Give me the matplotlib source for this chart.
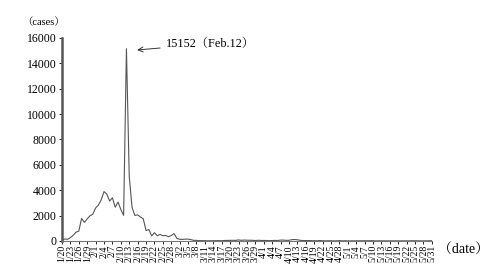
import numpy as np
import pandas as pd
import matplotlib
matplotlib.use("Agg")
import matplotlib.pyplot as plt

# daily new cases, 2020-01-20 .. 2020-05-31
start_date = "2020-01-20"
end_date = "2020-05-31"
new_cases = [
    77, 149, 131, 259, 444, 688, 769, 1771, 1459, 1737, 1982, 2102,  # 1/20-1/31
    2590, 2829, 3235, 3887, 3694, 3143, 3399, 2656, 3062, 2478, 2015, 15152,
    5090, 2641, 2009, 2048, 1886, 1749, 820, 889, 397, 648, 409, 508, 406,
    433, 327, 427, 573,  # 2/1-2/29
    202, 125, 119, 139, 143, 99, 44, 40, 19, 24, 15, 8, 11, 20, 16, 21, 13,
    34, 39, 41, 46, 39, 78, 47, 67, 55, 54, 45, 31, 48, 36,  # 3/1-3/31
    35, 31, 19, 30, 39, 32, 62, 63, 42, 46, 99, 108, 89, 46, 26, 27, 27, 16,
    12, 11, 30, 10, 6, 12, 11, 3, 6, 22, 4, 12,  # 4/1-4/30
    1, 2, 3, 1, 1, 2, 4, 1, 14, 17, 1, 7, 3, 4, 5, 8, 5, 6, 3, 5, 4, 0, 3,
    11, 7, 1, 1, 2, 4, 2, 16,  # 5/1-5/31
]
peak_label = "15152（Feb.12）"

dates = pd.date_range(start_date, end_date, freq="D")
day_idx = np.arange(len(dates))
tick_idx = day_idx[::3]
tick_labels = [f"{d.month}/{d.day}" for d in dates[::3]]

serif = ["Liberation Serif", "Noto Serif CJK JP", "Noto Sans CJK JP", "DejaVu Serif"]
plt.rcParams["font.family"] = serif

fig = plt.figure(figsize=(4.88, 2.75), dpi=100)
ax = fig.add_axes([0.127, 0.124, 0.758, 0.738])

ax.plot(day_idx, new_cases, color="#555555", lw=0.8)

ax.set_xlim(0, len(dates) - 1)
ax.set_ylim(0, 16000)
ax.set_yticks(np.arange(0, 16001, 2000))
ax.set_xticks(tick_idx)
ax.set_xticklabels(tick_labels, rotation=90, fontsize=7)
ax.tick_params(axis="y", labelsize=8.5, length=2, width=0.6, pad=2)
ax.tick_params(axis="x", length=2, width=0.6, pad=1)

ax.spines["top"].set_visible(False)
ax.spines["right"].set_visible(False)
ax.spines["left"].set_linewidth(1.8)
ax.spines["left"].set_color("#555555")
ax.spines["bottom"].set_linewidth(0.8)
ax.spines["bottom"].set_color("#777777")

ax.annotate(
    peak_label,
    xy=(26.8, 15050),
    xytext=(37, 15550),
    fontsize=8.8,
    va="center",
    arrowprops=dict(arrowstyle="->", color="#333333", lw=0.7, shrinkA=2, shrinkB=0),
)

fig.text(0.045, 0.92, "（cases）", fontsize=7.5, va="center", ha="left")
fig.text(0.897, 0.09, "（date）", fontsize=10, va="center", ha="left")

fig.savefig("out.png", dpi=100)
